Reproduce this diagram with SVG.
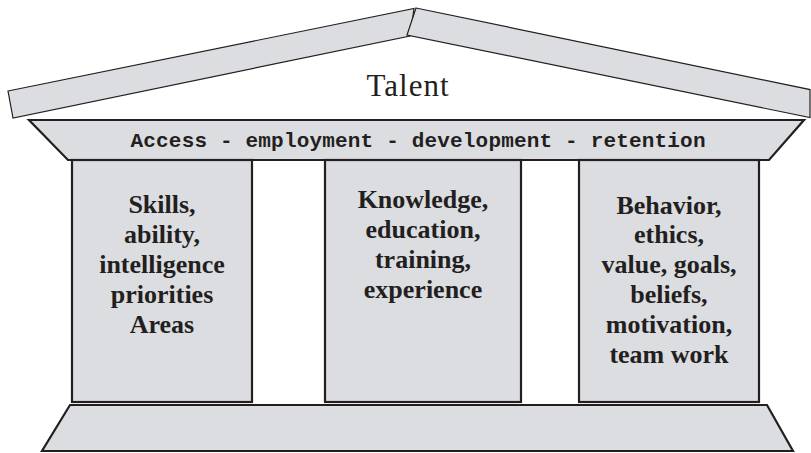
<svg xmlns="http://www.w3.org/2000/svg" width="811" height="453" viewBox="0 0 811 453">
<style>
.roof{fill:#dcdde0;stroke:#231f20;stroke-width:1.2;stroke-linejoin:miter}
.part{fill:#dcdde0;stroke:#231f20;stroke-width:2.2;stroke-linejoin:miter}
.lbl{font-family:"Liberation Serif","Times New Roman",serif;font-weight:bold;font-size:26px;fill:#231f20;text-anchor:middle}
.title{font-family:"Liberation Serif","Times New Roman",serif;font-size:31px;fill:#231f20;text-anchor:middle}
.mono{font-family:"Liberation Mono","Courier New",monospace;font-weight:bold;font-size:21px;fill:#231f20;text-anchor:middle}
</style>
<rect width="811" height="453" fill="#ffffff"/>
<g id="roof">
<polygon class="roof" points="8,91 414,8.5 410,36 13,118"/>
<polygon class="roof" points="416,8 810,89.6 810,117.6 407,35"/>
<text class="title" x="408" y="96" letter-spacing="1">Talent</text>
</g>
<g id="entablature">
<polygon class="part" points="29,120 804,120 769,160 68,160"/>
<text class="mono" x="418" y="147" textLength="575" lengthAdjust="spacing">Access - employment - development - retention</text>
</g>
<g id="column1">
<rect class="part" x="72" y="160" width="180" height="242"/>
<text class="lbl" x="162" y="213">Skills,</text>
<text class="lbl" x="162" y="243">ability,</text>
<text class="lbl" x="162" y="273">intelligence</text>
<text class="lbl" x="162" y="303">priorities</text>
<text class="lbl" x="162" y="333">Areas</text>
</g>
<g id="column2">
<rect class="part" x="325" y="160" width="196" height="242"/>
<text class="lbl" x="423" y="208">Knowledge,</text>
<text class="lbl" x="423" y="238">education,</text>
<text class="lbl" x="423" y="268">training,</text>
<text class="lbl" x="423" y="298">experience</text>
</g>
<g id="column3">
<rect class="part" x="579" y="160" width="180" height="242"/>
<text class="lbl" x="669" y="214">Behavior,</text>
<text class="lbl" x="669" y="243">ethics,</text>
<text class="lbl" x="669" y="273">value, goals,</text>
<text class="lbl" x="669" y="303">beliefs,</text>
<text class="lbl" x="669" y="333">motivation,</text>
<text class="lbl" x="669" y="363">team work</text>
</g>
<g id="base">
<polygon class="part" points="70,405 767,405 793,451 42,451"/>
</g>
<g id="connectors"></g>
</svg>
